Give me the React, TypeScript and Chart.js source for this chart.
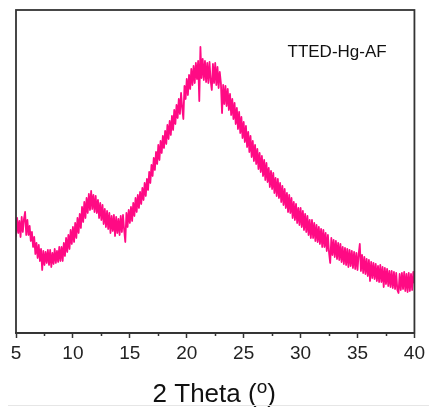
import React, { useEffect, useRef } from "react";
import { Chart, registerables } from "chart.js";

Chart.register(...registerables);

// 2θ sampled every 0.1° from 5.0 to 40.0
const thetaStart = 5.0;
const thetaStep = 0.1;

// Intensity (arbitrary units), one row per degree
const intensity: number[] = [
  97, 115, 100, 112, 96, 116, 101, 114, 121, 98, // 5
  113, 98, 107, 92, 101, 86, 96, 79, 90, 75, // 6
  88, 72, 84, 63, 82, 68, 81, 70, 83, 68, // 7
  83, 66, 80, 69, 84, 70, 82, 71, 86, 72, // 8
  86, 72, 90, 77, 95, 81, 98, 84, 103, 89, // 9
  106, 91, 110, 95, 115, 100, 119, 105, 126, 111, // 10
  131, 115, 135, 120, 139, 123, 142, 124, 138, 121, // 11
  137, 120, 133, 115, 130, 113, 128, 109, 124, 106, // 12
  122, 104, 120, 100, 117, 102, 118, 97, 116, 100, // 13
  114, 98, 117, 101, 118, 103, 91, 120, 106, 123, // 14
  110, 126, 112, 130, 117, 135, 121, 138, 125, 141, // 15
  129, 145, 133, 150, 137, 154, 143, 161, 150, 168, // 16
  157, 175, 163, 181, 169, 188, 173, 192, 180, 197, // 17
  185, 202, 189, 208, 194, 212, 198, 217, 203, 223, // 18
  209, 228, 215, 234, 219, 240, 225, 214, 247, 234, // 19
  254, 238, 258, 244, 264, 248, 267, 250, 270, 254, // 20
  272, 232, 286, 255, 274, 253, 272, 251, 270, 250, // 21
  271, 252, 243, 269, 250, 270, 248, 266, 245, 261, // 22
  250, 220, 248, 229, 247, 227, 244, 223, 239, 218, // 23
  234, 214, 230, 209, 225, 204, 221, 200, 216, 195, // 24
  211, 191, 207, 186, 201, 181, 197, 176, 192, 172, // 25
  188, 169, 184, 164, 180, 161, 177, 157, 173, 153, // 26
  170, 151, 165, 146, 162, 144, 160, 140, 155, 137, // 27
  154, 135, 150, 131, 147, 128, 144, 125, 140, 121, // 28
  138, 120, 135, 115, 131, 113, 129, 110, 125, 108, // 29
  125, 106, 122, 103, 119, 101, 117, 98, 113, 95, // 30
  113, 95, 110, 92, 108, 91, 106, 89, 104, 86, // 31
  103, 86, 100, 82, 98, 80, 70, 95, 78, 93, // 32
  76, 92, 74, 90, 73, 89, 71, 86, 69, 85, // 33
  68, 84, 66, 83, 67, 82, 65, 81, 64, 80, // 34
  63, 79, 89, 62, 78, 60, 76, 59, 74, 57, // 35
  73, 52, 71, 55, 70, 54, 69, 52, 67, 51, // 36
  68, 51, 66, 46, 65, 49, 64, 47, 62, 46, // 37
  62, 45, 61, 44, 60, 43, 40, 59, 43, 60, // 38
  44, 61, 42, 59, 41, 60, 42, 59, 43, 61, // 39
  50, // 40
];

const twoTheta: number[] = intensity.map((_, i) => +(thetaStart + i * thetaStep).toFixed(1));

const xTicks = [5, 10, 15, 20, 25, 30, 35, 40];
const xMinorTicks = [7.5, 12.5, 17.5, 22.5, 27.5, 32.5, 37.5];
const sampleLabel = "TTED-Hg-AF";
const xTitleMain = "2 Theta (";
const xTitleSup = "o";
const xTitleEnd = ")";

const FONT = '"Liberation Sans", Arial, sans-serif';
const LINE_COLOR = "#FF0A84";

const framePlugin = {
  id: "frame",
  afterDraw(chart: any) {
    const { ctx, chartArea } = chart;
    const { left, top, right, bottom } = chartArea;
    const xs = chart.scales.x;
    ctx.save();
    // box
    ctx.strokeStyle = "#333";
    ctx.lineWidth = 1.8;
    ctx.strokeRect(left, top, right - left, bottom - top);
    // minor ticks
    ctx.lineWidth = 1.5;
    ctx.beginPath();
    for (const v of xMinorTicks) {
      const px = Math.round(xs.getPixelForValue(v)) + 0.5;
      ctx.moveTo(px, bottom);
      ctx.lineTo(px, bottom + 3);
    }
    ctx.stroke();
    // sample label
    ctx.fillStyle = "#111";
    ctx.font = `17px ${FONT}`;
    ctx.textBaseline = "alphabetic";
    ctx.textAlign = "left";
    ctx.fillText(sampleLabel, 287.5, 56.5);
    // axis title with superscript
    const mainFont = `26px ${FONT}`;
    const supFont = `19px ${FONT}`;
    ctx.font = mainFont;
    const w1 = ctx.measureText(xTitleMain).width;
    const w3 = ctx.measureText(xTitleEnd).width;
    ctx.font = supFont;
    const w2 = ctx.measureText(xTitleSup).width;
    const total = w1 + w2 + w3;
    const cx = (left + right) / 2 - 1;
    const x0 = cx - total / 2;
    const baseY = 401.5;
    ctx.font = mainFont;
    ctx.fillText(xTitleMain, x0, baseY);
    ctx.font = supFont;
    ctx.fillText(xTitleSup, x0 + w1, baseY - 9);
    ctx.font = mainFont;
    ctx.fillText(xTitleEnd, x0 + w1 + w2, baseY);
    // faint bottom rule
    ctx.strokeStyle = "#e6e6e6";
    ctx.lineWidth = 1;
    ctx.beginPath();
    ctx.moveTo(8, 405.5);
    ctx.lineTo(429, 405.5);
    ctx.stroke();
    ctx.restore();
  },
};

export default function App() {
  const ref = useRef<HTMLCanvasElement | null>(null);
  useEffect(() => {
    if (!ref.current) return;
    const chart = new Chart(ref.current, {
      type: "line",
      data: {
        datasets: [
          {
            label: sampleLabel,
            data: twoTheta.map((x, i) => ({ x, y: intensity[i] })),
            borderColor: LINE_COLOR,
            borderWidth: 1.8,
            borderJoinStyle: "round",
            borderCapStyle: "round",
            pointRadius: 0,
            tension: 0,
            fill: false,
          },
        ],
      },
      options: {
        animation: false,
        responsive: false,
        devicePixelRatio: 1,
        layout: { padding: { left: 16, right: 14, top: 10, bottom: 0 } },
        plugins: {
          legend: { display: false },
          tooltip: { enabled: false },
          title: { display: false },
        },
        scales: {
          x: {
            type: "linear",
            position: "bottom",
            min: 5,
            max: 40,
            afterBuildTicks: (scale: any) => {
              scale.ticks = xTicks.map((v) => ({ value: v }));
            },
            afterFit: (scale: any) => {
              scale.height = 74;
            },
            ticks: {
              stepSize: 5,
              color: "#222",
              padding: 4,
              maxRotation: 0,
              font: { size: 19, family: FONT },
            },
            grid: {
              drawOnChartArea: false,
              drawTicks: true,
              tickLength: 5,
              tickColor: "#333",
              tickWidth: 1.5,
            },
            border: { display: true, color: "#333", width: 1.8 },
          },
          y: {
            display: false,
            min: 0,
            max: 323,
          },
        },
      },
      plugins: [framePlugin],
    });
    return () => chart.destroy();
  }, []);
  return (
    <div style={{ position: "absolute", left: 0, top: 0, width: 429, height: 407, background: "#fff" }}>
      <canvas ref={ref} width={429} height={407} style={{ width: 429, height: 407, display: "block" }} />
    </div>
  );
}
